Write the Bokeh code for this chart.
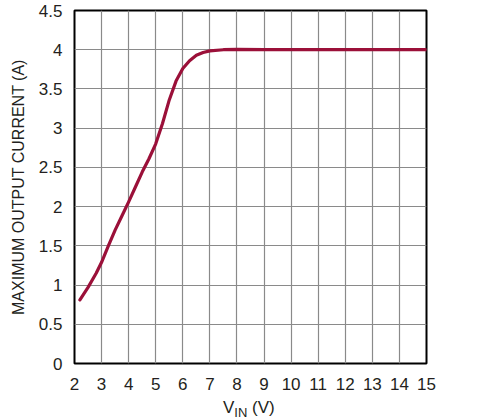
from bokeh.plotting import figure
from bokeh.models import Range1d, FixedTicker, Div
from bokeh.layouts import column
from bokeh.embed import file_html
from bokeh.resources import INLINE

vin = [2.2, 2.5, 2.8, 3.0, 3.25, 3.5, 3.75, 4.0, 4.25, 4.5, 4.75, 5.0, 5.25, 5.5, 5.75, 6.0, 6.25, 6.5, 6.75, 7.0, 7.5, 8.0, 9.0, 10.0, 11.0, 12.0, 13.0, 14.0, 15.0]
iout = [0.81, 0.97, 1.15, 1.29, 1.5, 1.7, 1.88, 2.06, 2.25, 2.44, 2.61, 2.8, 3.06, 3.36, 3.6, 3.76, 3.86, 3.93, 3.965, 3.985, 4.0, 4.005, 4.0, 4.0, 4.0, 4.0, 4.0, 4.0, 4.0]

x_ticks = list(range(2, 16))
y_ticks = [0, 0.5, 1, 1.5, 2, 2.5, 3, 3.5, 4, 4.5]
y_tick_labels = ["0", "0.5", "1", "1.5", "2", "2.5", "3", "3.5", "4", "4.5"]
x_title_main = "V"
x_title_sub = "IN"
x_title_unit = " (V)"

FONT = "Liberation Sans"
TXT = "#231f20"

p = figure(width=496, height=400, output_backend="svg", toolbar_location=None,
           x_range=Range1d(2, 15), y_range=Range1d(0, 4.5),
           min_border_left=74, min_border_right=70, min_border_top=10, min_border_bottom=37)
p.background_fill_color = "white"
p.border_fill_color = "white"
p.outline_line_color = "black"
p.outline_line_width = 2

for ax in (p.xaxis[0], p.yaxis[0]):
    ax.axis_line_color = None
    ax.major_tick_line_color = None
    ax.minor_tick_line_color = None
    ax.major_tick_out = 0
    ax.major_tick_in = 0
    ax.major_label_text_font = FONT
    ax.major_label_text_font_size = "17px"
    ax.major_label_text_color = TXT

p.xaxis.ticker = FixedTicker(ticks=x_ticks)
p.yaxis.ticker = FixedTicker(ticks=y_ticks)
p.yaxis.major_label_overrides = {t: s for t, s in zip(y_ticks, y_tick_labels)}
p.xaxis.major_label_standoff = 14
p.yaxis.major_label_standoff = 12

p.yaxis.axis_label = "MAXIMUM OUTPUT CURRENT (A)"
p.yaxis.axis_label_text_font = FONT
p.yaxis.axis_label_text_font_size = "16px"
p.yaxis.axis_label_text_font_style = "normal"
p.yaxis.axis_label_text_color = TXT
p.yaxis.axis_label_standoff = 9

p.xgrid.ticker = FixedTicker(ticks=x_ticks)
p.ygrid.ticker = FixedTicker(ticks=y_ticks)
for g in (p.xgrid[0], p.ygrid[0]):
    g.grid_line_color = "#8a8a8a"
    g.grid_line_width = 1.2

p.line(vin, iout, line_color="#9b1039", line_width=3.2, line_cap="round", line_join="round")

title_html = (
    f'<div style="padding-left:223px; font-family:\'{FONT}\'; font-size:17px; '
    f'line-height:16px; color:{TXT}; white-space:nowrap;">'
    f'{x_title_main}<span style="font-size:13px; position:relative; top:4px;">{x_title_sub}</span>'
    f'{x_title_unit}</div>'
)
div = Div(text=title_html, width=496, height=20, margin=(0, 0, 0, 0))

layout = column(p, div, spacing=0, margin=(0, 0, 0, 0))
open("out.html", "w").write(file_html(layout, INLINE))
